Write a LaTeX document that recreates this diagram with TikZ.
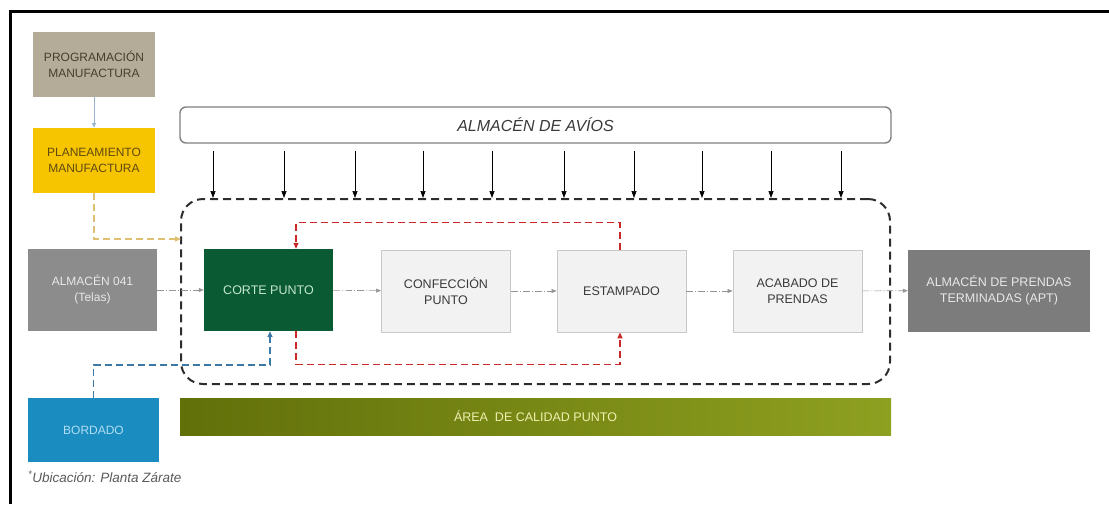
\documentclass[tikz,border=0pt]{standalone}
\usepackage{fontspec}
\setmainfont{Liberation Sans}
\usetikzlibrary{arrows.meta}

\definecolor{progfondo}{RGB}{180,172,152}
\definecolor{progtexto}{RGB}{72,62,46}
\definecolor{planfondo}{RGB}{247,196,0}
\definecolor{plantexto}{RGB}{96,74,18}
\definecolor{almfondo}{RGB}{140,140,140}
\definecolor{aptfondo}{RGB}{124,124,124}
\definecolor{almtexto}{RGB}{232,232,232}
\definecolor{cortefondo}{RGB}{10,90,52}
\definecolor{cortetexto}{RGB}{196,232,206}
\definecolor{procfondo}{RGB}{242,242,242}
\definecolor{procborde}{RGB}{200,200,200}
\definecolor{proctexto}{RGB}{58,58,58}
\definecolor{notatexto}{RGB}{90,90,90}
\definecolor{bordfondo}{RGB}{26,140,192}
\definecolor{bordtexto}{RGB}{176,222,242}
\definecolor{calizq}{RGB}{98,112,10}
\definecolor{calder}{RGB}{142,160,32}
\definecolor{caltexto}{RGB}{240,240,176}
\definecolor{zonalinea}{RGB}{45,45,45}
\definecolor{rojolazo}{RGB}{200,40,40}
\definecolor{azullazo}{RGB}{60,120,165}
\definecolor{amarillolazo}{RGB}{222,192,112}
\definecolor{grisflujo}{RGB}{150,150,150}
\definecolor{celeste}{RGB}{150,180,205}

\begin{document}
\begin{tikzpicture}[x=1pt, y=-1pt,
    caja/.style={minimum width=129pt, minimum height=82pt, align=center, inner sep=2pt,
        font=\fontsize{12}{16}\selectfont},
    proceso/.style={caja, draw=procborde, fill=procfondo, text=proctexto, line width=0.8pt,
        font=\fontsize{12.5}{16}\selectfont},
    flujo/.style={draw=grisflujo, line width=0.6pt, dash pattern=on 7pt off 2pt on 1pt off 2pt,
        -{Triangle[length=5pt,width=4pt]}},
    lazo/.style={line width=1.4pt, dash pattern=on 7pt off 4pt, -{Triangle[length=6pt,width=5pt]}},
    avflecha/.style={black, line width=0.7pt, shorten <=7pt, -{Triangle[length=7pt,width=5pt]}}
]
    \useasboundingbox (0,0) rectangle (1109,504);
    \draw[line width=3pt] (10,504) -- (10,11) -- (1109,11);

    \node[caja, fill=progfondo, text=progtexto, minimum width=122pt, minimum height=65pt]
        (prog) at (94,64.5) {PROGRAMACIÓN\\MANUFACTURA};
    \node[caja, fill=planfondo, text=plantexto, minimum width=122pt, minimum height=65pt]
        (plan) at (94,160.5) {PLANEAMIENTO\\MANUFACTURA};
    \node[caja, fill=almfondo, text=almtexto] (alm) at (92.5,290) {ALMACÉN 041\\(Telas)};
    \node[caja, fill=bordfondo, text=bordtexto, minimum width=131pt, minimum height=64pt]
        (bord) at (93.5,430) {BORDADO};
    \node[anchor=west, inner sep=0pt, text=notatexto, font=\fontsize{13.5}{16}\selectfont\itshape]
        (nota) at (28,477) {\textsuperscript{*}Ubicación: Planta Zárate};

    \node[caja, fill=cortefondo, text=cortetexto, font=\fontsize{12.5}{16}\selectfont]
        (corte) at (268.5,290) {CORTE PUNTO};
    \node[proceso] (conf) at (446,291) {CONFECCIÓN\\PUNTO};
    \node[proceso] (estamp) at (621.5,291) {ESTAMPADO};
    \node[proceso] (acab) at (797.5,291) {ACABADO DE\\PRENDAS};
    \node[caja, fill=aptfondo, text=almtexto, minimum width=182pt, font=\fontsize{12.5}{16}\selectfont]
        (apt) at (999,290.5) {ALMACÉN DE PRENDAS\\TERMINADAS (APT)};

    \node[draw=gray, line width=1.4pt, rounded corners=6pt, minimum width=711pt, minimum height=36pt,
        text=proctexto, font=\fontsize{16}{18}\selectfont\itshape] (avios) at (535.5,125) {ALMACÉN DE AVÍOS};
    \node[draw=zonalinea, line width=2pt, dash pattern=on 8pt off 5pt, rounded corners=22pt,
        minimum width=709pt, minimum height=185pt] (zona) at (535.5,291.5) {};
    \node[left color=calizq, right color=calder, minimum width=711pt, minimum height=37pt,
        text=caltexto, font=\fontsize{12.5}{14}\selectfont] (calidad) at (535.5,416.5) {ÁREA \ DE CALIDAD PUNTO};

    \foreach \x in {213,284,355,423,492,564,634,702,771,841}
        \draw[avflecha] (avios.south -| \x,0) -- (zona.north -| \x,0);

    \draw[celeste, line width=0.8pt, -{Triangle[length=5pt,width=4pt]}] (prog) -- (plan);
    \coordinate (entrada) at (181,239);
    \draw[amarillolazo, line width=1.4pt, dash pattern=on 7pt off 4pt, -{Triangle[length=6pt,width=5pt]}]
        (plan.south) |- (entrada);

    \draw[flujo] (alm) -- (corte);
    \draw[flujo] (corte) -- (conf);
    \draw[flujo] (conf) -- (estamp);
    \draw[flujo] (estamp) -- (acab);
    \draw[flujo] (acab) -- (apt);

    \draw[lazo, rojolazo] ([xshift=-1.5pt]estamp.north) -- ++(0,-27) -| ([xshift=27.5pt]corte.north);
    \draw[lazo, rojolazo] ([xshift=27.5pt]corte.south) -- ++(0,33) -| ([xshift=-1.5pt]estamp.south);
    \draw[lazo, azullazo] (bord.north) -- ++(0,-33) -| ([xshift=1.5pt]corte.south);
\end{tikzpicture}
\end{document}
